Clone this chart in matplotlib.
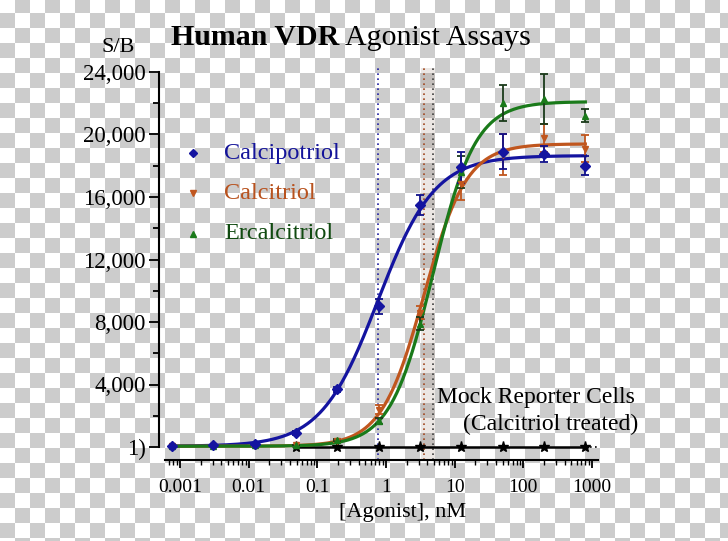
import numpy as np
import matplotlib
matplotlib.use("Agg")
import matplotlib.pyplot as plt
from matplotlib.ticker import FixedLocator, LogLocator, NullFormatter, MultipleLocator

# ---------------- data ----------------
conc = [0.000763, 0.00305, 0.0122, 0.0488, 0.195, 0.781, 3.125, 12.5, 50, 200, 800]

calcipotriol = [80, 100, 200, 900, 3700, 9000, 15500, 17900, 18900, 18750, 18000]
calcipotriol_err = [0, 0, 0, 100, 150, 480, 650, 1000, 1100, 500, 600]
calcitriol = [60, 60, 80, 150, 400, 2400, 8600, 16800, 18700, 19800, 19100]
calcitriol_err = [0, 0, 0, 0, 50, 300, 400, 1000, 1300, 900, 850]
ercalcitriol = [60, 60, 100, 100, 450, 1650, 7900, 17600, 22000, 22300, 21200]
ercalcitriol_err = [0, 0, 0, 0, 50, 200, 400, 1000, 1150, 1600, 400]

mock_conc = [0.0488, 0.195, 0.781, 3.125, 12.5, 50, 200, 800]
mock = [1, 1, 1, 1, 1, 1, 1, 1]

series_names = ["Calcipotriol", "Calcitriol", "Ercalcitriol"]
fit_bottom = [50, 50, 50]
fit_top = [18650, 19400, 22100]
fit_ec50 = [0.76, 3.57, 4.83]
fit_hill = [1.05, 1.4, 1.4]
ec50_band = [3.23, 5.17]

y_ticks = [0, 4000, 8000, 12000, 16000, 20000, 24000]
y_ticklabels = ["1)", "4,000", "8,000", "12,000", "16,000", "20,000", "24,000"]
x_ticks = [0.001, 0.01, 0.1, 1, 10, 100, 1000]
x_ticklabels = ["0.001", "0.01", "0.1", "1", "10", "100", "1000"]

# ---------------- style ----------------
W, H = 728, 541
colors = ["#1414a0", "#c0561e", "#1a7a1a"]
text_colors = ["#14149a", "#b8521e", "#104a10"]
err_colors = ["#10108a", "#c0561e", "#1a3a1a"]
markers = ["D", "v", "^"]
serif = ["Liberation Serif", "DejaVu Serif"]
plt.rcParams["font.family"] = serif

fig = plt.figure(figsize=(W / 100, H / 100), dpi=100)

def fx(x):
    return x / W

def fy(y):
    return 1 - y / H

# checkerboard background (transparency pattern)
rr, cc = np.mgrid[0:H, 0:W]
checker = (((cc // 15) + ((rr + 2) // 15)) % 2).astype(float)
bg_rgb = np.where(checker[..., None] == 1, 204 / 255, 1.0) * np.ones((1, 1, 3))
bg = fig.add_axes([0, 0, 1, 1], zorder=-10)
bg.imshow(bg_rgb, extent=(0, W, H, 0), interpolation="nearest", aspect="auto")
bg.axis("off")

ax = fig.add_axes([fx(165), fy(460), fx(598) - fx(165), fy(64) - fy(460)])
ax.patch.set_alpha(0)
ax.set_xscale("log")
ax.set_xlim(6.05e-4, 1223)
ax.set_ylim(-832, 24512)

for s in ["top", "right"]:
    ax.spines[s].set_visible(False)
ax.spines["left"].set_position(("outward", 4))
ax.spines["left"].set_bounds(0, 24000)
ax.spines["left"].set_linewidth(1.5)
ax.spines["bottom"].set_linewidth(1.5)

ax.yaxis.set_major_locator(FixedLocator(y_ticks))
ax.set_yticklabels(y_ticklabels, fontsize=16.5)
ax.yaxis.set_minor_locator(MultipleLocator(2000))
ax.tick_params(axis="y", which="major", length=7, width=1.3, pad=3)
ax.tick_params(axis="y", which="minor", length=4, width=1.3)

ax.xaxis.set_major_locator(FixedLocator(x_ticks))
ax.set_xticklabels(x_ticklabels, fontsize=14)
ax.xaxis.set_minor_locator(LogLocator(base=10, subs=np.arange(2, 10)))
ax.xaxis.set_minor_formatter(NullFormatter())
ax.tick_params(axis="x", which="major", length=6, width=1.3, pad=8)
ax.tick_params(axis="x", which="minor", length=3.5, width=1.0)

# EC50 band and dotted lines
ymin, ymax = -832, 24250
ax.axvspan(ec50_band[0], ec50_band[1], ymin=0, ymax=(ymax + 832) / (24512 + 832),
           color="#a08878", alpha=0.2, lw=0, zorder=1)
ax.vlines(fit_ec50[0], ymin, ymax, colors="#2020a0", linestyles=(0, (1, 2)), lw=1.2, zorder=2)
ax.vlines(fit_ec50[1], ymin, ymax, colors="#a04820", linestyles=(0, (1, 2)), lw=1.2, zorder=2)
ax.vlines(fit_ec50[2], ymin, ymax, colors="#404040", linestyles=(0, (1, 2)), lw=1.2, zorder=2)

# mock reporter
ax.plot(mock_conc, mock, color="black", lw=1.8, marker="*", ms=8, zorder=3)
ax.plot([mock_conc[-1], ax.get_xlim()[1]], [mock[-1], mock[-1]], color="black",
        lw=1.2, ls=(0, (1, 2)), zorder=3)

# curves and points
data = [calcipotriol, calcitriol, ercalcitriol]
errs = [calcipotriol_err, calcitriol_err, ercalcitriol_err]
xs = np.logspace(np.log10(conc[0]), np.log10(conc[-1]), 400)
order = [1, 2, 0]
for i in order:
    yfit = fit_bottom[i] + (fit_top[i] - fit_bottom[i]) / (1 + (fit_ec50[i] / xs) ** fit_hill[i])
    ax.plot(xs, yfit, color=colors[i], lw=2.3, zorder=4 + i)
for i in order:
    ax.errorbar(conc, data[i], yerr=errs[i], fmt="none", ecolor=err_colors[i],
                elinewidth=1.3, capsize=3, capthick=1.3, zorder=7)
    ax.plot(conc, data[i], ls="none", marker=markers[i], ms=5, color=colors[i], zorder=8)

# legend (markers + coloured text)
leg_y = [153, 193, 234]
for i in range(3):
    fig.add_artist(plt.Line2D([fx(193)], [fy(leg_y[i])], marker=markers[i], ms=4.5,
                              color=colors[i], ls="none", transform=fig.transFigure))
    fig.text(fx(224), fy(leg_y[i]), series_names[i], color=text_colors[i],
             fontsize=17.5, va="center", ha="left")

# texts
t1 = fig.text(fx(171), fy(45), "Human VDR", fontsize=21.5, fontweight="bold",
              va="baseline", ha="left")
fig.canvas.draw()
bb = t1.get_window_extent()
fig.text(bb.x1 / W + fx(6), fy(45), "Agonist Assays", fontsize=21.5,
         va="baseline", ha="left")
fig.text(fx(118), fy(47), "S/B", fontsize=16, ha="center", va="center")
fig.text(fx(403), fy(513), "[Agonist], nM", fontsize=16, ha="center", va="center")
fig.text(fx(437), fy(397), "Mock Reporter Cells", fontsize=17, ha="left", va="center")
fig.text(fx(638), fy(424), "(Calcitriol treated)", fontsize=17, ha="right", va="center")

fig.savefig("out.png", dpi=100)
